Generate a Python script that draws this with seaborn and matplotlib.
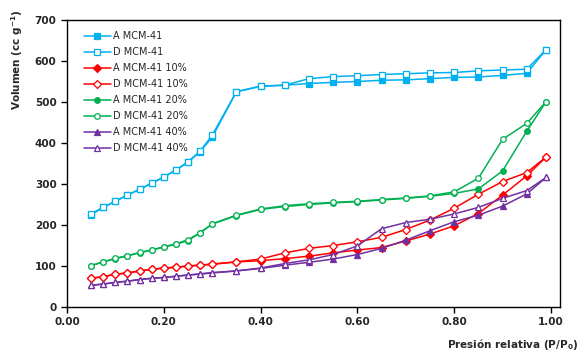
import matplotlib
matplotlib.use("Agg")
import matplotlib.pyplot as plt
import seaborn as sns
import pandas as pd

sns.set_theme(style="white")
plt.rcParams['font.family'] = ['DejaVu Sans']

p_full = [0.05, 0.075, 0.1, 0.125, 0.15, 0.175, 0.2, 0.225, 0.25, 0.275, 0.3,
          0.35, 0.4, 0.45, 0.5, 0.55, 0.6, 0.65, 0.7, 0.75, 0.8, 0.85, 0.9, 0.95, 0.99]

a_mcm41 = [225, 243, 258, 273, 287, 302, 317, 334, 353, 379, 414,
           525, 538, 541, 545, 548, 550, 553, 554, 557, 560, 561, 565, 570, 628]
d_mcm41 = [228, 243, 258, 273, 287, 302, 317, 334, 354, 380, 419,
           525, 539, 541, 557, 562, 564, 567, 569, 571, 572, 576, 578, 580, 628]

a_10 = [70, 74, 80, 83, 88, 92, 95, 97, 100, 102, 104,
        110, 113, 118, 124, 132, 139, 145, 161, 178, 198, 228, 273, 320, 366]
d_10 = [70, 74, 80, 83, 88, 92, 95, 97, 100, 102, 105,
        110, 117, 132, 143, 150, 159, 170, 189, 212, 241, 275, 306, 328, 366]

a_20 = [101, 110, 118, 125, 132, 139, 146, 153, 162, 181, 202,
        223, 238, 245, 250, 254, 257, 261, 265, 270, 277, 288, 332, 429, 501]
d_20 = [101, 110, 119, 125, 133, 139, 147, 154, 164, 181, 203,
        224, 239, 247, 252, 255, 258, 262, 266, 271, 281, 314, 409, 448, 501]

a_40 = [53, 56, 60, 63, 67, 70, 72, 75, 78, 80, 83,
        88, 94, 102, 109, 117, 128, 143, 163, 186, 208, 224, 246, 276, 316]
d_40 = [53, 56, 60, 63, 67, 70, 72, 75, 78, 81, 84,
        88, 95, 106, 115, 128, 149, 191, 206, 214, 227, 243, 265, 284, 316]

labels = ["A MCM-41", "D MCM-41", "A MCM-41 10%", "D MCM-41 10%",
          "A MCM-41 20%", "D MCM-41 20%", "A MCM-41 40%", "D MCM-41 40%"]
series = [a_mcm41, d_mcm41, a_10, d_10, a_20, d_20, a_40, d_40]

colors = ["#00B0F0", "#00B0F0", "#FF0000", "#FF0000",
          "#00B050", "#00B050", "#7030A0", "#7030A0"]
markers = ["s", "s", "D", "D", "o", "o", "^", "^"]
msizes = [5.0, 4.8, 3.8, 3.8, 4.0, 4.0, 5.0, 5.0]
filled = [True, False, True, False, True, False, True, False]

fig = plt.figure(figsize=(5.81, 3.51), dpi=100)
ax = fig.add_axes([67/581, 1-307/351, (560-67)/581, (307-20)/351])

for lab, vals, c, m, ms, f in zip(labels, series, colors, markers, msizes, filled):
    df = pd.DataFrame({"p": p_full, "v": vals})
    sns.lineplot(data=df, x="p", y="v", ax=ax, color=c, marker=m, markersize=ms,
                 markerfacecolor=c if f else "white", markeredgecolor=c,
                 markeredgewidth=0.9, linewidth=1.1, label=lab, sort=False)

ax.set_xlim(0, 1.0186)
ax.set_ylim(0, 700)
ax.set_xticks([0, 0.2, 0.4, 0.6, 0.8, 1.0])
ax.set_xticklabels(["0.00", "0.20", "0.40", "0.60", "0.80", "1.00"])
ax.set_yticks(range(0, 701, 100))
ax.tick_params(axis="both", which="major", direction="out", length=4.5, width=1,
               color="black", labelsize=7.5, pad=3, bottom=True, left=True)
for lbl in ax.get_xticklabels() + ax.get_yticklabels():
    lbl.set_fontweight("bold")
for s in ax.spines.values():
    s.set_color("black")
    s.set_linewidth(1.0)
ax.set_xlabel("")
ax.set_ylabel("")

fig.text(578/581, 1-344/351, "Presión relativa (P/P$_\\mathregular{0}$)", ha="right", va="center",
         fontsize=7.5, fontweight="bold")
fig.text(17/581, 1-10/351, "Volumen (cc g$^{\\mathregular{-1}}$)", rotation=90, ha="center", va="top",
         fontsize=7.5, fontweight="bold")

leg = ax.legend(loc="upper left", frameon=False, fontsize=7, handlelength=2.8,
                labelspacing=0.62, handletextpad=0.2, borderaxespad=0.3,
                bbox_to_anchor=(0.02, 0.985))

fig.savefig("out.png", dpi=100)
